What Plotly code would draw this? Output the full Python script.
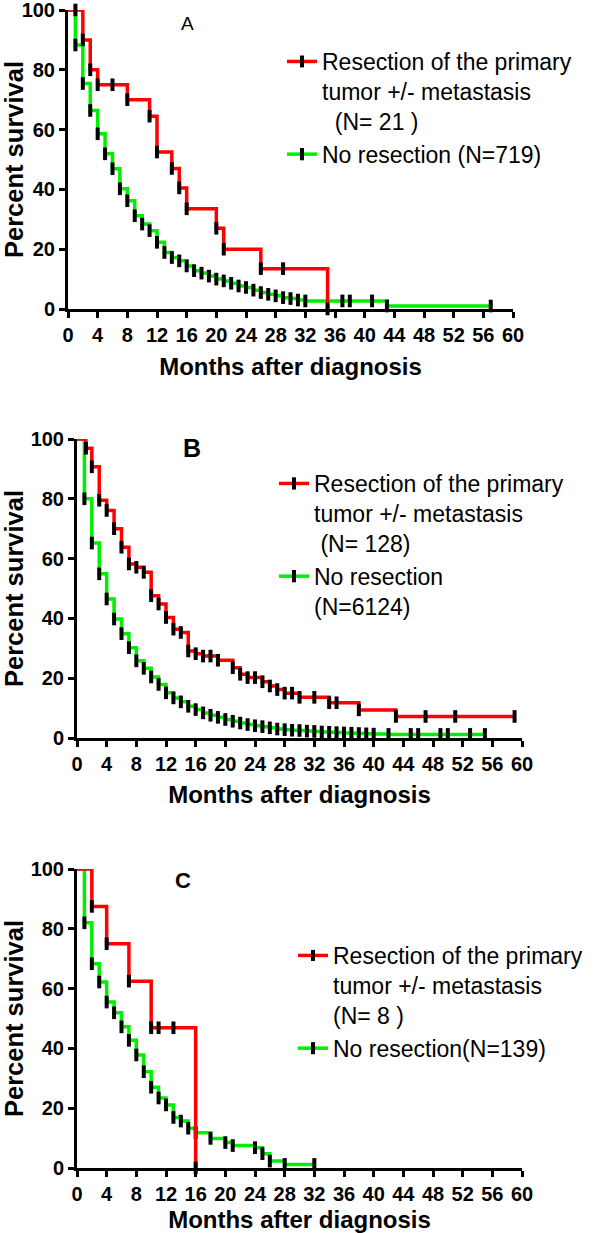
import plotly.graph_objects as go

# ---------------- data ----------------
x_ticks = list(range(0, 61, 4))
y_ticks = [0, 20, 40, 60, 80, 100]

# Panel A
A_res_t = [0, 1, 2, 3, 4, 6, 8, 11, 12, 14, 15, 16, 20, 21, 26, 29, 35]
A_res_s = [100, 100, 90, 80, 75, 75, 70, 64.5, 52.5, 47, 40.5, 33.5, 27, 20, 13.5, 13.5, 0]
A_nor_t = [0, 1, 2, 3, 4, 5, 6, 7, 8, 9, 10, 11, 12, 13, 14, 15, 16, 17, 18, 19, 20,
           21, 22, 23, 24, 25, 26, 27, 28, 29, 30, 31, 32, 37, 38, 41, 43, 57]
A_nor_s = [100, 88.3, 75.4, 66.4, 58.6, 51.9, 46.9, 40.2, 36.2, 31.2, 28.4, 26.2, 22.3,
           18.9, 17.2, 16.1, 14.4, 12.8, 12.0, 11.0, 10.0, 9.4, 8.6, 7.7, 7.2, 6.3, 5.5,
           4.9, 4.4, 3.8, 3.5, 3.0, 2.7, 2.7, 2.7, 2.7, 1.0, 1.0]

# Panel B
B_res_t = [0, 1.2, 2, 3, 4, 5, 6, 7, 8, 9, 10, 11, 12, 13, 14, 15, 16, 17, 18, 19, 21,
           22, 23, 24, 25, 26, 27, 28, 29, 30, 32, 34, 35, 38, 43, 47, 51, 59]
B_res_s = [100, 96.9, 90.7, 79.5, 76.1, 70.0, 63.8, 58.2, 57.1, 55.4, 47.6, 44.8, 40.3,
           36.4, 35.3, 29.1, 28.2, 27.4, 27.4, 26.0, 23.5, 21.3, 20.2, 20.2, 18.8, 17.4,
           16.2, 15.0, 15.0, 13.6, 13.6, 11.8, 11.8, 9.4, 7.2, 7.2, 7.2, 7.2]
B_nor_t = [0, 1, 2, 3, 4, 5, 6, 7, 8, 9, 10, 11, 12, 13, 14, 15, 16, 17, 18, 19, 20,
           21, 22, 23, 24, 25, 26, 27, 28, 29, 30, 31, 32, 33, 34, 35, 36, 37, 38, 39,
           40, 42, 45, 46, 49, 50, 53, 55]
B_nor_s = [100, 80.0, 65.2, 54.9, 46.5, 39.8, 34.9, 30.2, 25.8, 23.3, 20.4, 17.9, 15.1,
           13.4, 12.1, 10.6, 9.5, 8.4, 7.6, 6.9, 6.2, 5.6, 5.0, 4.5, 4.1, 3.8, 3.4, 3.0,
           2.8, 2.6, 2.5, 2.3, 2.2, 2.0, 1.9, 1.8, 1.7, 1.6, 1.5, 1.4, 1.3, 1.2, 1.2,
           1.2, 1.2, 1.2, 1.2, 1.2]

# Panel C
C_res_t = [0, 2, 4, 7, 10, 11, 13, 16]
C_res_s = [100, 87.5, 75, 62.5, 46.9, 46.9, 46.9, 0]
C_nor_t = [0, 1, 2, 3, 4, 5, 6, 7, 8, 9, 10, 11, 12, 13, 14, 15, 16, 18, 20, 21, 24,
           25, 26, 28, 32]
C_nor_s = [100, 82.0, 68.3, 62.2, 55.5, 51.9, 47.2, 42.7, 37.8, 32.2, 27.0, 23.4, 21.1,
           16.9, 15.7, 13.3, 11.8, 9.9, 8.5, 7.5, 6.8, 4.8, 2.3, 1.2, 1.2]

names = {
    "A": ("Resection of the primary<br>tumor +/- metastasis<br>\u00a0\u00a0(N= 21 )",
          "No resection (N=719)"),
    "B": ("Resection of the primary<br>tumor +/- metastasis<br>\u00a0(N= 128)",
          "No resection<br>(N=6124)"),
    "C": ("Resection of the primary<br>tumor +/- metastasis<br>(N= 8 )",
          "No resection(N=139)"),
}

RED = "#ff0000"
GREEN = "#00ee00"
FONT = "Liberation Sans, Arial, sans-serif"

fig = go.Figure()

panels = [
    ("A", "x", "y", "legend", A_res_t, A_res_s, A_nor_t, A_nor_s),
    ("B", "x2", "y2", "legend2", B_res_t, B_res_s, B_nor_t, B_nor_s),
    ("C", "x3", "y3", "legend3", C_res_t, C_res_s, C_nor_t, C_nor_s),
]

for key, xa, ya, lg, rt, rs, nt, ns in panels:
    for t, s, col, nm, rank in [(nt, ns, GREEN, names[key][1], 2),
                                (rt, rs, RED, names[key][0], 1)]:
        sizes = [0] + [9] * (len(t) - 1)
        fig.add_trace(go.Scatter(
            x=t, y=s, mode="lines+markers", xaxis=xa, yaxis=ya, legend=lg,
            name=nm, legendrank=rank, cliponaxis=False,
            line=dict(color=col, width=3.5, shape="hv"),
            marker=dict(symbol="line-ns", size=sizes, color="black", opacity=1,
                        line=dict(color="black", width=4)),
        ))

W, H = 596, 1233

def px_x(p):
    return p / W

def px_y(p):
    return 1 - p / H

axis_common = dict(
    showline=True, linecolor="black", linewidth=3, ticks="outside", ticklen=6,
    tickwidth=3, tickcolor="black", showgrid=False, zeroline=False,
    automargin=False, fixedrange=True, ticklabeloverflow="allow",
    tickfont=dict(family=FONT, size=20, color="black", weight="bold"),
)

# panel geometry (pixels)
geo = {
    "": dict(x0=68, x1=513, y0=10, y1=309, st=14),
    "2": dict(x0=77, x1=522, y0=439, y1=738, st=13),
    "3": dict(x0=77, x1=522, y0=869, y1=1168, st=12),
}

layout = dict(
    width=W, height=H, margin=dict(l=0, r=0, t=0, b=0),
    paper_bgcolor="white", plot_bgcolor="white", template="none",
)
for sfx, g in geo.items():
    layout["xaxis" + sfx] = dict(
        axis_common, domain=[px_x(g["x0"]), px_x(g["x1"])], range=[0, 60],
        tickvals=x_ticks, anchor="y" + sfx,
        title=dict(text="Months after diagnosis", standoff=g["st"],
                   font=dict(family=FONT, size=24, color="black", weight="bold")),
    )
    layout["yaxis" + sfx] = dict(
        axis_common, domain=[px_y(g["y1"]), px_y(g["y0"])], range=[0, 100],
        tickvals=y_ticks, anchor="x" + sfx,
        title=dict(text="Percent survival", standoff=4,
                   font=dict(family=FONT, size=25.5, color="black", weight="bold")),
    )

leg_common = dict(
    bgcolor="rgba(0,0,0,0)", borderwidth=0, xanchor="left", yanchor="top",
    font=dict(family=FONT, size=23, color="black"), itemwidth=30,
    traceorder="normal", tracegroupgap=4, valign="top",
)
layout["legend"] = dict(leg_common, x=px_x(282), y=px_y(40))
layout["legend2"] = dict(leg_common, x=px_x(274), y=px_y(462))
layout["legend3"] = dict(leg_common, x=px_x(293), y=px_y(934))

fig.update_layout(**layout)

for txt, xp, yp, sz, wt in [("A", 187, 23, 19, "normal"),
                            ("B", 192, 448, 25, "bold"),
                            ("C", 183, 880, 22, "bold")]:
    fig.add_annotation(text=txt, x=px_x(xp), y=px_y(yp), xref="paper", yref="paper",
                       xanchor="center", yanchor="middle", showarrow=False,
                       font=dict(family=FONT, size=sz, color="black", weight=wt))

fig.write_html("out.html", post_script="document.body.style.margin='0px';",
               config={"displayModeBar": False})
